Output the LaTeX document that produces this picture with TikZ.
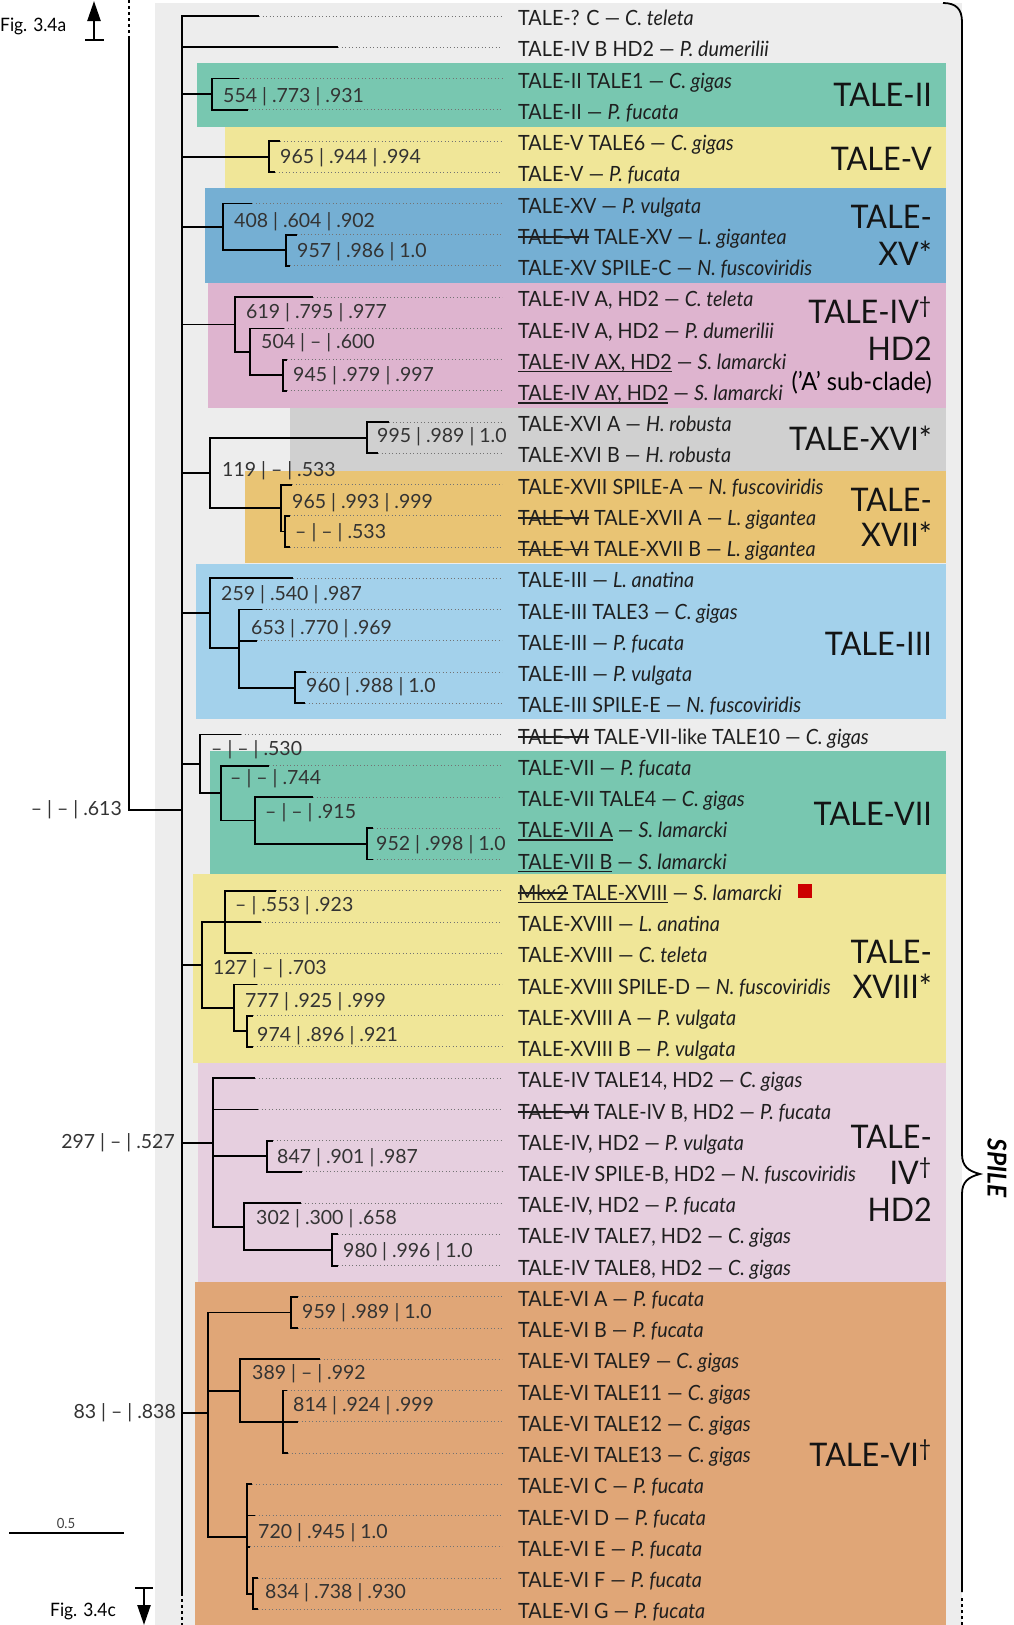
\documentclass[tikz,border=0pt]{standalone}
\usepackage{fontspec}
\setmainfont{Lato}[FakeStretch=0.94]
\newfontfamily\bootfam{Lato}
\usetikzlibrary{arrows.meta}
\definecolor{panel}{HTML}{EDEDED}
\definecolor{cteal}{HTML}{78C7B0}
\definecolor{cyell}{HTML}{F0E698}
\definecolor{cblue}{HTML}{75AFD3}
\definecolor{cpink}{HTML}{DEB4CF}
\definecolor{cgray}{HTML}{D0D0D0}
\definecolor{corng}{HTML}{E9C474}
\definecolor{clblue}{HTML}{A3D1EB}
\definecolor{clpink}{HTML}{E6CFDF}
\definecolor{cvi}{HTML}{E0A677}
\definecolor{cred}{HTML}{CC0000}
\newsavebox\stkbox
\newsavebox\ulbox
\newcommand\mystrike[1]{\sbox\stkbox{#1}\rlap{\rule[0.3em]{\wd\stkbox}{0.08em}}\usebox\stkbox}
\newcommand\myunder[1]{\sbox\ulbox{#1}\rlap{\rule[-0.15em]{\wd\ulbox}{0.08em}}\usebox\ulbox}
\newcommand\leaffont{\fontsize{21}{21}\selectfont}
\newcommand\bootfont{\bootfam\fontsize{19.5}{19.5}\selectfont}
\newcommand\cladefont{\fontsize{32.5}{32.5}\selectfont}
\newcommand\subfont{\fontsize{25}{25}\selectfont}
\newcommand\figfont{\fontsize{18.5}{18.5}\selectfont}
\begin{document}
\begin{tikzpicture}[x=1pt,y=-1pt,
  br/.style={line width=1.8pt},
  dots/.style={black!55, line width=0.9pt, dash pattern=on 0.9pt off 2.6pt},
  dashline/.style={line width=1.8pt, dash pattern=on 3pt off 3pt},
  leaf/.style={anchor=base west, inner sep=0, font=\leaffont, text=black!88},
  boot/.style={anchor=west, inner sep=0, font=\bootfont, text=black!80},
  bootr/.style={anchor=east, inner sep=0, font=\bootfont, text=black!80},
  clade/.style={anchor=base east, inner sep=0, font=\cladefont, text=black!92}]
\useasboundingbox (0,0) rectangle (1013,1625);
% background panel and clade boxes
\fill[panel] (155,3) rectangle (962,1625);
\fill[cteal] (197,63) rectangle (946,127);
\fill[cyell] (225,127) rectangle (946,188);
\fill[cblue] (205,188) rectangle (946,283);
\fill[cpink] (208,283) rectangle (946,408);
\fill[cgray] (290,408) rectangle (946,471);
\fill[corng] (245,471) rectangle (946,563);
\fill[clblue] (196,564) rectangle (946,719);
\fill[cteal] (210,751) rectangle (946,874);
\fill[cyell] (193,874) rectangle (946,1063);
\fill[clpink] (198,1063) rectangle (946,1282);
\fill[cvi] (195,1282) rectangle (946,1625);
% leaves
\foreach \i/\xe/\txt in {
0/259/{TALE-? C — \textit{C. teleta}},
1/338/{TALE-IV B HD2 — \textit{P. dumerilii}},
2/239/{TALE-II TALE1 — \textit{C. gigas}},
3/248/{TALE-II — \textit{P. fucata}},
4/280/{TALE-V TALE6 — \textit{C. gigas}},
5/275/{TALE-V — \textit{P. fucata}},
6/252/{TALE-XV — \textit{P. vulgata}},
7/297/{\mystrike{TALE-VI} TALE-XV — \textit{L. gigantea}},
8/290/{TALE-XV SPILE-C — \textit{N. fuscoviridis}},
9/313/{TALE-IV A, HD2 — \textit{C. teleta}},
10/284/{TALE-IV A, HD2 — \textit{P. dumerilii}},
11/287/{\myunder{TALE-IV AX, HD2} — \textit{S. lamarcki}},
12/287/{\myunder{TALE-IV AY, HD2} — \textit{S. lamarcki}},
13/389/{TALE-XVI A — \textit{H. robusta}},
14/378/{TALE-XVI B — \textit{H. robusta}},
15/292/{TALE-XVII SPILE-A — \textit{N. fuscoviridis}},
16/290/{\mystrike{TALE-VI} TALE-XVII A — \textit{L. gigantea}},
17/290/{\mystrike{TALE-VI} TALE-XVII B — \textit{L. gigantea}},
18/293/{TALE-III — \textit{L. anatina}},
19/262/{TALE-III TALE3 — \textit{C. gigas}},
20/257/{TALE-III — \textit{P. fucata}},
21/306/{TALE-III — \textit{P. vulgata}},
22/305/{TALE-III SPILE-E — \textit{N. fuscoviridis}},
23/241/{\mystrike{TALE-VI} TALE-VII-like TALE10 — \textit{C. gigas}},
24/269/{TALE-VII — \textit{P. fucata}},
25/313/{TALE-VII TALE4 — \textit{C. gigas}},
26/373/{\myunder{TALE-VII A} — \textit{S. lamarcki}},
27/373/{\myunder{TALE-VII B} — \textit{S. lamarcki}},
28/276/{\myunder{\mystrike{Mkx2} TALE-XVIII} — \textit{S. lamarcki}},
29/261/{TALE-XVIII — \textit{L. anatina}},
30/252/{TALE-XVIII — \textit{C. teleta}},
31/257/{TALE-XVIII SPILE-D — \textit{N. fuscoviridis}},
32/253/{TALE-XVIII A — \textit{P. vulgata}},
33/253/{TALE-XVIII B — \textit{P. vulgata}},
34/255/{TALE-IV TALE14, HD2 — \textit{C. gigas}},
35/258/{\mystrike{TALE-VI} TALE-IV B, HD2 — \textit{P. fucata}},
36/273/{TALE-IV, HD2 — \textit{P. vulgata}},
37/302/{TALE-IV SPILE-B, HD2 — \textit{N. fuscoviridis}},
38/301/{TALE-IV, HD2 — \textit{P. fucata}},
39/338/{TALE-IV TALE7, HD2 — \textit{C. gigas}},
40/338/{TALE-IV TALE8, HD2 — \textit{C. gigas}},
41/298/{TALE-VI A — \textit{P. fucata}},
42/298/{TALE-VI B — \textit{P. fucata}},
43/320/{TALE-VI TALE9 — \textit{C. gigas}},
44/287/{TALE-VI TALE11 — \textit{C. gigas}},
45/298/{TALE-VI TALE12 — \textit{C. gigas}},
46/288/{TALE-VI TALE13 — \textit{C. gigas}},
47/252/{TALE-VI C — \textit{P. fucata}},
48/255/{TALE-VI D — \textit{P. fucata}},
49/250/{TALE-VI E — \textit{P. fucata}},
50/258/{TALE-VI F — \textit{P. fucata}},
51/258/{TALE-VI G — \textit{P. fucata}}}{
  \pgfmathsetmacro\yy{16+31.24*\i}
  \coordinate (E\i) at (\xe,\yy);
  \coordinate (D\i) at (502,\yy);
  \draw[dots] (E\i) -- (D\i);
  \node[leaf] (L\i) at (518,\yy+9.6) {\txt};
}
\node[fill=cred, minimum size=14pt, inner sep=0] (rsq) at (805,890.5) {};
% internal nodes
\coordinate (S) at (182,0);
\coordinate (nII) at (212,94.1);
\coordinate (nV) at (269,156.6);
\coordinate (nXVb) at (286,250.3);
\coordinate (nXV) at (223,226.9);
\coordinate (nIVc) at (283,375.3);
\coordinate (nIVb) at (250,351.8);
\coordinate (nIVA) at (235,324.5);
\coordinate (nXVI) at (367,437.7);
\coordinate (nXVIIc) at (285,531.5);
\coordinate (nXVII) at (281,508);
\coordinate (nXVIX) at (210,472.9);
\coordinate (nIIIc) at (295,687.7);
\coordinate (nIIIb) at (239,648);
\coordinate (nIII) at (210,613.2);
\coordinate (nVIId) at (367,843.9);
\coordinate (nVIIc) at (255,820.4);
\coordinate (nVIIb) at (221,793.1);
\coordinate (nVII) at (200,763.8);
\coordinate (nXVIIIa) at (225,922);
\coordinate (nXVIIIc) at (247,1031.3);
\coordinate (nXVIIIb) at (234,1007.9);
\coordinate (nXVIII) at (202,965);
\coordinate (nIVHb) at (267,1156.3);
\coordinate (nIVHd) at (332,1250);
\coordinate (nIVHc) at (244,1226.6);
\coordinate (nIVH) at (213,1143);
\coordinate (nVIa) at (291,1312.5);
\coordinate (nVIc) at (283,1421.8);
\coordinate (nVIb) at (240,1390.6);
\coordinate (nVIe) at (253,1593.6);
\coordinate (nVId) at (247,1537);
\coordinate (nVI) at (208,1413);
\coordinate (R) at (129,810);
\coordinate (Rtop) at (129,38);
\coordinate (Rtop0) at (129,0);
\coordinate (Sbot) at (182,1593);
\coordinate (Send) at (182,1625);
% spine and root
\draw[br] (Sbot) -- (S |- E0) -- (E0);
\draw[br] (S |- E1) -- (E1);
\draw[br] (Rtop) -- (R) -- (S |- R);
\draw[dashline] (Rtop0) -- (Rtop);
\draw[dashline] (Sbot) -- (Send);
\foreach \n in {nII,nV,nXV,nIVA,nXVIX,nIII,nVII,nXVIII,nIVH,nVI}{
  \draw[br] (S |- \n) -- (\n);
}
% clade branches
\foreach \p/\c in {nII/E2,nII/E3,nV/E4,nV/E5,
  nXV/E6,nXV/nXVb,nXVb/E7,nXVb/E8,
  nIVA/E9,nIVA/nIVb,nIVb/E10,nIVb/nIVc,nIVc/E11,nIVc/E12,
  nXVIX/nXVI,nXVIX/nXVII,nXVI/E13,nXVI/E14,nXVII/E15,nXVII/nXVIIc,nXVIIc/E16,nXVIIc/E17,
  nIII/E18,nIII/nIIIb,nIIIb/E19,nIIIb/E20,nIIIb/nIIIc,nIIIc/E21,nIIIc/E22,
  nVII/E23,nVII/nVIIb,nVIIb/E24,nVIIb/nVIIc,nVIIc/E25,nVIIc/nVIId,nVIId/E26,nVIId/E27,
  nXVIII/nXVIIIa,nXVIII/nXVIIIb,nXVIIIa/E28,nXVIIIa/E29,nXVIIIa/E30,nXVIIIb/E31,nXVIIIb/nXVIIIc,nXVIIIc/E32,nXVIIIc/E33,
  nIVH/E34,nIVH/E35,nIVH/nIVHb,nIVH/nIVHc,nIVHb/E36,nIVHb/E37,nIVHc/E38,nIVHc/nIVHd,nIVHd/E39,nIVHd/E40,
  nVI/nVIa,nVI/nVIb,nVI/nVId,nVIa/E41,nVIa/E42,nVIb/E43,nVIb/nVIc,nVIc/E44,nVIc/E45,nVIc/E46,
  nVId/E47,nVId/E48,nVId/E49,nVId/nVIe,nVIe/E50,nVIe/E51}{
  \draw[br] (\p) |- (\c);
}
% support values
\node[boot] (b1) at (223,97) {554 | .773 | .931};
\node[boot] (b2) at (280,158) {965 | .944 | .994};
\node[boot] (b3) at (234,222) {408 | .604 | .902};
\node[boot] (b4) at (297,252) {957 | .986 | 1.0};
\node[boot] (b5) at (246,313) {619 | .795 | .977};
\node[boot] (b6) at (261,343) {504 | – | .600};
\node[boot] (b7) at (293,376) {945 | .979 | .997};
\node[boot] (b8) at (377,437) {995 | .989 | 1.0};
\node[boot] (b9) at (222,471) {119 | – | .533};
\node[boot] (b10) at (292,503) {965 | .993 | .999};
\node[boot] (b11) at (295,533) {– | – | .533};
\node[boot] (b12) at (221,595) {259 | .540 | .987};
\node[boot] (b13) at (251,629) {653 | .770 | .969};
\node[boot] (b14) at (306,687) {960 | .988 | 1.0};
\node[boot] (b15) at (211,750) {– | – | .530};
\node[boot] (b16) at (230,779) {– | – | .744};
\node[boot] (b17) at (265,813) {– | – | .915};
\node[boot] (b18) at (376,845) {952 | .998 | 1.0};
\node[bootr] (b19) at (122,810) {– | – | .613};
\node[boot] (b20) at (235,906) {– | .553 | .923};
\node[boot] (b21) at (213,969) {127 | – | .703};
\node[boot] (b22) at (245,1002) {777 | .925 | .999};
\node[boot] (b23) at (257,1036) {974 | .896 | .921};
\node[bootr] (b24) at (175,1143) {297 | – | .527};
\node[boot] (b25) at (277,1158) {847 | .901 | .987};
\node[boot] (b26) at (256,1219) {302 | .300 | .658};
\node[boot] (b27) at (343,1252) {980 | .996 | 1.0};
\node[boot] (b28) at (302,1313) {959 | .989 | 1.0};
\node[boot] (b29) at (252,1374) {389 | – | .992};
\node[boot] (b30) at (293,1406) {814 | .924 | .999};
\node[bootr] (b31) at (176,1413) {83 | – | .838};
\node[boot] (b32) at (258,1533) {720 | .945 | 1.0};
\node[boot] (b33) at (265,1593) {834 | .738 | .930};
% clade names
\node[clade] (c1) at (932,106.7) {TALE-II};
\node[clade] (c2) at (932,170) {TALE-V};
\node[clade] (c3a) at (932,228) {TALE-};
\node[clade] (c3b) at (932,265) {XV*};
\node[clade] (c4a) at (932,323) {TALE-IV\textsuperscript{†}};
\node[clade] (c4b) at (932,360) {HD2};
\node[anchor=base east, inner sep=0, font=\subfont] (c4c) at (932,390) {('A' sub-clade)};
\node[clade] (c5) at (932,450) {TALE-XVI*};
\node[clade] (c6a) at (932,511.7) {TALE-};
\node[clade] (c6b) at (932,546.7) {XVII*};
\node[clade] (c7) at (932,655) {TALE-III};
\node[clade] (c8) at (932,825) {TALE-VII};
\node[clade] (c9a) at (932,963.3) {TALE-};
\node[clade] (c9b) at (932,998.3) {XVIII*};
\node[clade] (c10a) at (932,1148.3) {TALE-};
\node[clade] (c10b) at (932,1184) {IV\textsuperscript{†}};
\node[clade] (c10c) at (932,1221.7) {HD2};
\node[clade] (c11) at (932,1466) {TALE-VI\textsuperscript{†}};
% brace
\draw[line width=1.8pt] (943,3) .. controls (956,3) and (962,9) .. (962,22) -- (962,1154)
  .. controls (962,1166) and (968,1171) .. (980,1174)
  .. controls (968,1177) and (962,1182) .. (962,1194) -- (962,1592);
\draw[dashline] (962,1598) -- (962,1625);
\node[rotate=-90, inner sep=0, font=\fontsize{26}{26}\selectfont\bfseries\itshape] (spile) at (997,1168) {SPILE};
% figure references
\node[anchor=base west, inner sep=0, font=\figfont] (figa) at (0,31) {Fig. 3.4a};
\coordinate (atip) at (94,1);
\coordinate (abar) at (94,40);
\draw[line width=2.4pt, -{Triangle[length=20pt,width=13pt]}] (abar) -- (atip);
\draw[line width=2.4pt] (85,40) -- (104,40);
\node[anchor=base west, inner sep=0, font=\figfont] (figc) at (50,1616) {Fig. 3.4c};
\coordinate (ctip) at (144,1625);
\coordinate (cbar) at (144,1588);
\draw[line width=2.4pt, -{Triangle[length=20pt,width=13pt]}] (cbar) -- (ctip);
\draw[line width=2.4pt] (135,1588) -- (153,1588);
% scale bar
\coordinate (sb1) at (9,1533);
\coordinate (sb2) at (124,1533);
\draw[line width=1.3pt] (sb1) -- (sb2);
\node[inner sep=0, font=\fontsize{14}{14}\selectfont, text=black!75] (sbl) at (66,1523) {0.5};
\end{tikzpicture}
\end{document}
